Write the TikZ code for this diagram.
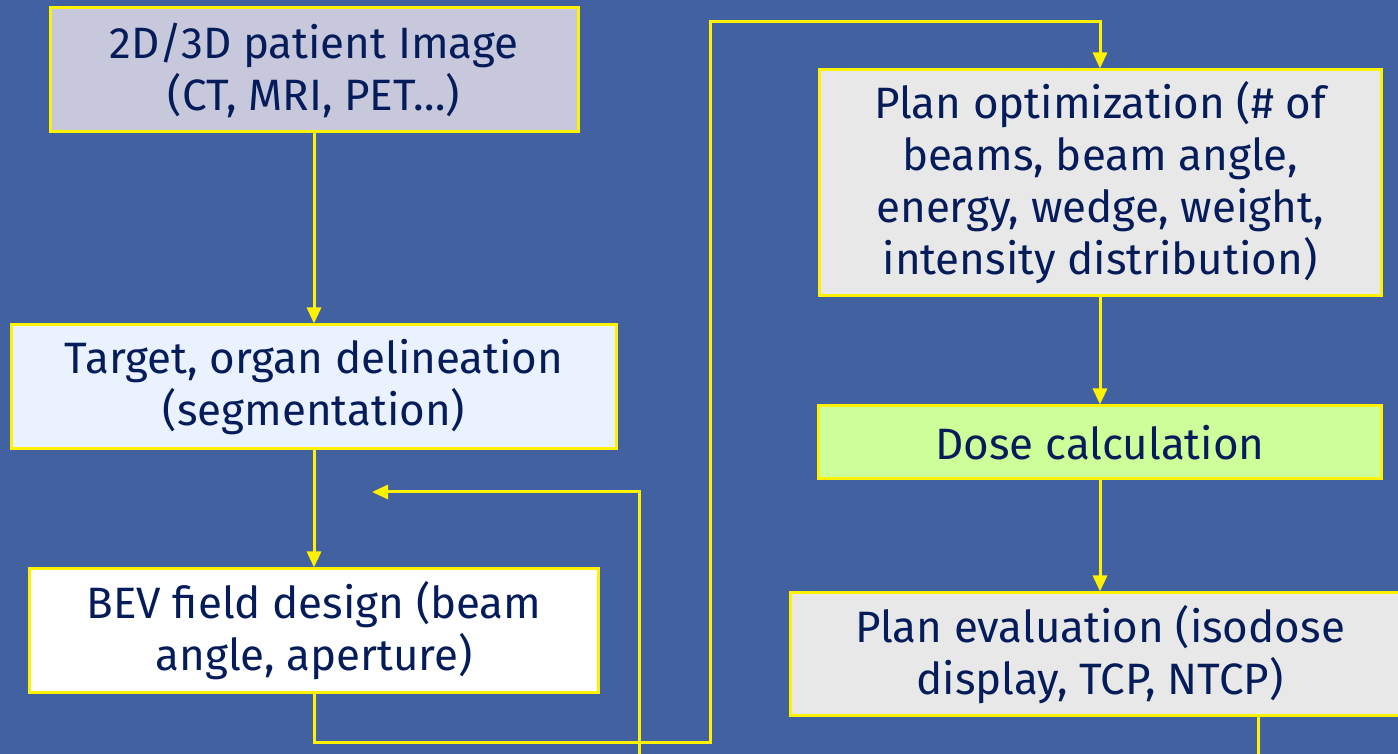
\documentclass[tikz,border=0pt]{standalone}
\usepackage{fontspec}
\setmainfont{Fira Sans}
\usetikzlibrary{arrows.meta,positioning}

\definecolor{slidebg}{RGB}{66,97,160}
\definecolor{navy}{RGB}{5,28,90}
\definecolor{lavender}{RGB}{200,200,220}
\definecolor{paleblue}{RGB}{234,242,255}
\definecolor{palegrey}{RGB}{232,232,232}
\definecolor{palegreen}{RGB}{204,255,153}

\begin{document}
\begin{tikzpicture} [line width=0.3mm,
    box/.style={draw=yellow, text=navy, align=center, inner sep=0pt,
      font=\fontsize{12.5}{14.8}\selectfont},
    flow/.style={draw=yellow, -{Triangle[width=1.4mm,length=1.6mm,fill=yellow]}}]

  \useasboundingbox (0,0) rectangle (13.98,7.54);
  \fill[slidebg] (0,0) rectangle (13.98,7.54);
  \clip (0,0) rectangle (13.98,7.54);

  \node[box, fill=lavender, minimum width=5.28cm, minimum height=1.24cm] (img) at (3.14,6.84)
    {2D/3D patient Image\\(CT, MRI, PET\ldots)};
  \node[box, fill=paleblue, minimum width=6.05cm, minimum height=1.24cm] (seg) [below=1.9cm of img]
    {Target, organ delineation\\(segmentation)};
  \node[box, fill=white, minimum width=5.69cm, minimum height=1.24cm] (bev) [below=1.17cm of seg]
    {BEV field design (beam\\angle, aperture)};

  \node[box, fill=palegrey, minimum width=5.62cm, minimum height=2.26cm] (opt) at (11.00,5.71)
    {Plan optimization (\# of\\beams, beam angle,\\energy, wedge, weight,\\intensity distribution)};
  \node[box, fill=palegreen, minimum width=5.63cm, minimum height=0.73cm] (dose) [below=1.07cm of opt]
    {Dose calculation};
  \node[box, fill=palegrey, minimum width=6.20cm, minimum height=1.23cm] (eval) [below=1.11cm of dose]
    {Plan evaluation (isodose\\display, TCP, NTCP)};

  % loose ends running off the slide
  \coordinate (fbin) at (6.39,-0.1);
  \coordinate (fbend) at (3.72,2.62);
  \coordinate (evalout) at (12.58,-0.1);

  \draw[flow] (img) -- (seg);
  \draw[flow] (seg) -- (bev);
  \draw[flow] (bev.south) -- ++(0,-0.48) -| (7.10,7.32) -| (opt.north);
  \draw[flow] (opt) -- (dose);
  \draw[flow] (dose) -- (eval);
  \draw[draw=yellow] (eval.south -| evalout) -- (evalout);
  \draw[flow] (fbin) |- (fbend);
\end{tikzpicture}
\end{document}
